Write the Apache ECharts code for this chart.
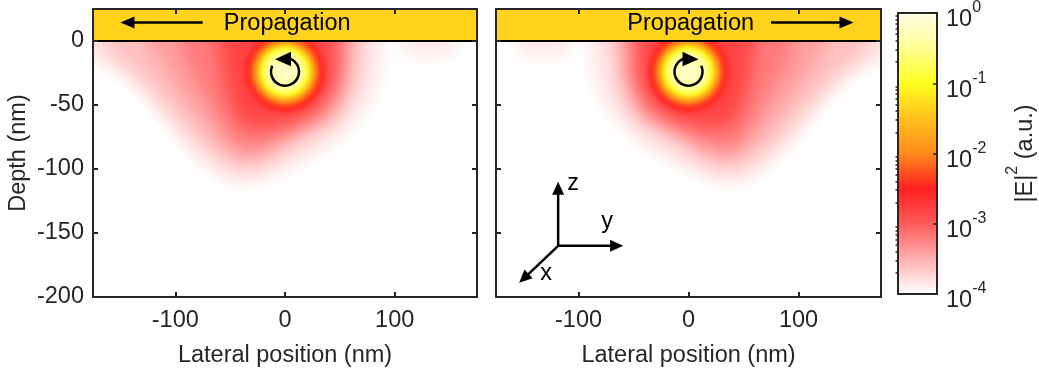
<!DOCTYPE html>
<html>
<head>
<meta charset="utf-8">
<script src="https://cdn.jsdelivr.net/npm/echarts@6/dist/echarts.min.js"></script>
<style>
  html, body { margin: 0; padding: 0; background: #ffffff; }
  #chart { width: 1039px; height: 374px; }
</style>
</head>
<body>
<div id="chart"></div>
<script>
const FONT = '"Liberation Sans", Arial, Helvetica, sans-serif';
const INK = '#262626';
const BANNER = '#ffd21c';
const FS = 23.5;

// ---- axes -------------------------------------------------------------
const lateralTicks = [-100, 0, 100];
const depthTicks = [-200, -150, -100, -50, 0];
const intensityDecades = [-4, -3, -2, -1, 0];

// ---- colour map for log10 |E|^2 ----------------------------------------
const cmapLevels = [-4, -3.5, -3, -2.5, -2, -1.5, -1, -0.5, 0];
const cmapColors = ['#ffffff', '#ffb0b0', '#ff5a5a', '#ff2020', '#ff8a1c',
                    '#ffc01c', '#ffff1e', '#ffff94', '#fffde6'];

// ---- hot spot under the circularly polarised source --------------------
// ring radius (nm, lateral) for each log10 level, around spotCenter
const spotCenter = [0, -24];
const spotLevels = [-2.6, -2.4, -2.2, -2.0, -1.8, -1.6, -1.4, -1.2, -1.0, -0.8, -0.6, -0.4, -0.2];
const spotRadii  = [37.0, 33.6, 30.8, 28.4, 26.6, 25.2, 23.8, 22.5, 21.2, 19.7, 18.4, 16.6, 9.0];

// ---- halo iso-lines, [lateral nm, depth nm], backward-propagating map ----
// (closing points sit above the surface / beyond the edge, under the banner)
const haloLevels = [-3.9, -3.8, -3.6, -3.4, -3.2, -3.0, -2.8];
const haloOutlines = [
  [[-200,20],[-200,-15],[-180,-17],[-160,-22],[-144,-31],[-123,-48],[-108,-65],[-90,-85],[-70,-101],
   [-47,-113],[-20,-109],[0,-102],[15,-97],[44,-82],[65,-66],[80,-48],[88,-30],[91,-12],[91,20]],
  [[-200,20],[-200,-4],[-178,-8],[-160,-16],[-140,-29],[-120,-47],[-100,-67],[-80,-85],[-60,-99],
   [-40,-107],[-15,-103],[0,-96],[20,-86],[40,-73],[60,-55],[72,-40],[78,-22],[79,-8],[79,20]],
  [[-166,20],[-160,-4],[-140,-21],[-120,-38],[-100,-57],[-80,-76],[-60,-90],[-40,-98],
   [-20,-95],[0,-85],[22,-75],[45,-63],[58,-46],[66,-24],[68,-8],[68,20]],
  [[-130,20],[-122,-6],[-112,-20],[-100,-36],[-80,-58],[-60,-77],[-40,-90],[-20,-88],
   [0,-78],[20,-68],[40,-58],[52,-42],[57,-24],[58,-8],[58,20]],
  [[-98,20],[-92,-10],[-88,-20],[-80,-32],[-68,-50],[-55,-68],[-40,-82],[-20,-80],
   [0,-72],[18,-64],[35,-55],[46,-40],[51,-24],[52,-8],[52,20]],
  [[-66,20],[-62,-8],[-60,-20],[-55,-38],[-48,-55],[-40,-68],[-22,-70],[0,-65],
   [18,-58],[31,-51],[41,-38],[45,-24],[46,-8],[46,20]],
  [[-53,20],[-51,-10],[-50,-20],[-48,-35],[-44,-48],[-36,-58],[-20,-62],[0,-60],
   [16,-55],[28,-48],[36,-38],[40,-24],[39,-10],[35,20]]
];
// weak lobe ahead of the source at the surface
const sideLevels = [-3.92, -3.85];
const sideOutlines = [
  [[98,20],[104,-6],[115,-13],[132,-16],[149,-13],[159,-6],[164,20]],
  [[112,20],[118,-4],[132,-8],[146,-4],[152,20]]
];

const bannerText = 'Propagation';

// the forward-propagating map is the mirror image of the backward one
const mirror = pts => pts.map(([x, y]) => [-x, y]);

function fieldItems(flip) {
  const items = [];
  haloLevels.forEach((lv, i) => items.push({ level: lv, pts: flip ? mirror(haloOutlines[i]) : haloOutlines[i] }));
  sideLevels.forEach((lv, i) => items.push({ level: lv, pts: flip ? mirror(sideOutlines[i]) : sideOutlines[i] }));
  spotLevels.forEach((lv, i) => items.push({ level: lv, center: flip ? [-spotCenter[0], spotCenter[1]] : spotCenter, r: spotRadii[i] }));
  return items;
}

// Each iso-band is painted only through its blurred shadow: the shape itself
// is shifted off the canvas and the shadow is offset back into place, which
// gives soft, continuous transitions between neighbouring levels.
const SHIFT = 4000;

function fieldSeries(gridIdx, flip) {
  const items = fieldItems(flip);
  return {
    type: 'custom',
    coordinateSystem: 'cartesian2d',
    xAxisIndex: gridIdx * 2,
    yAxisIndex: gridIdx * 2,
    clip: true,
    z: 2,
    silent: true,
    data: items.map((it, i) => [it.level, i]),
    renderItem(params, api) {
      const it = items[params.dataIndex];
      const color = api.visual('color');
      if (it.pts) {
        return {
          type: 'polygon',
          x: -SHIFT,
          shape: { points: it.pts.map(p => api.coord(p)), smooth: 0.35 },
          style: { fill: color, shadowBlur: 16, shadowColor: color, shadowOffsetX: SHIFT }
        };
      }
      const c = api.coord(it.center);
      const r = api.size([it.r, 0])[0];
      return {
        type: 'circle',
        x: -SHIFT,
        shape: { cx: c[0], cy: c[1], r: r },
        style: { fill: color, shadowBlur: 4, shadowColor: color, shadowOffsetX: SHIFT }
      };
    }
  };
}

function arrow(p0, p1, lw, headLen, headHalf) {
  const dx = p1[0] - p0[0], dy = p1[1] - p0[1];
  const L = Math.hypot(dx, dy), ux = dx / L, uy = dy / L;
  const bx = p1[0] - ux * headLen, by = p1[1] - uy * headLen;
  return [
    { type: 'line', shape: { x1: p0[0], y1: p0[1], x2: bx + ux, y2: by + uy },
      style: { stroke: '#000', lineWidth: lw } },
    { type: 'polygon', shape: { points: [[p1[0], p1[1]],
        [bx - uy * headHalf, by + ux * headHalf], [bx + uy * headHalf, by - ux * headHalf]] },
      style: { fill: '#000' } }
  ];
}

// banner, propagation arrow, spin symbol (and axis triad on the second map)
function annotationSeries(gridIdx, flip, withTriad) {
  const s = flip ? -1 : 1;
  return {
    type: 'custom',
    coordinateSystem: 'cartesian2d',
    xAxisIndex: gridIdx * 2,
    yAxisIndex: gridIdx * 2,
    z: 5,
    silent: true,
    data: [[0, 0]],
    renderItem(params, api) {
      const tl = api.coord([-175, 25]), br = api.coord([175, 0]);
      const kids = [];
      kids.push({ type: 'rect', shape: { x: tl[0], y: tl[1], width: br[0] - tl[0], height: br[1] - tl[1] },
                  style: { fill: BANNER } });
      kids.push({ type: 'line', shape: { x1: tl[0], y1: br[1], x2: br[0], y2: br[1] },
                  style: { stroke: '#000', lineWidth: 2 } });
      const tp = api.coord([2, 13.5]);
      kids.push({ type: 'text', x: tp[0], y: tp[1],
                  style: { text: bannerText, fontSize: FS, fontFamily: FONT, fill: '#000',
                           align: 'center', verticalAlign: 'middle' } });
      const a0 = api.coord([s * -75, 14.5]), a1 = api.coord([s * -150, 14.5]);
      kids.push(...arrow(a0, a1, 2.5, 14, 6));

      // spin direction symbol at the source
      const c = api.coord([s * spotCenter[0], spotCenter[1]]);
      const d2r = Math.PI / 180;
      kids.push({ type: 'arc',
                  shape: { cx: c[0], cy: c[1], r: 14,
                           startAngle: (flip ? -25 : -70) * d2r, endAngle: (flip ? 250 : 205) * d2r,
                           clockwise: true },
                  style: { stroke: '#000', lineWidth: 2.5, fill: null } });
      kids.push({ type: 'polygon',
                  shape: { points: [[c[0] - s * 10, c[1] - 12.5], [c[0] + s * 6, c[1] - 20], [c[0] + s * 6, c[1] - 5.5]] },
                  style: { fill: '#000' } });

      if (withTriad) {
        const o = api.coord([-118.5, -160]);
        kids.push(...arrow(o, [o[0], o[1] - 64], 2.5, 13, 6));
        kids.push(...arrow(o, [o[0] + 65, o[1]], 2.5, 13, 6));
        kids.push(...arrow(o, [o[0] - 39, o[1] + 37], 2.5, 13, 6));
        const lab = (t, dx, dy) => ({ type: 'text', x: o[0] + dx, y: o[1] + dy,
          style: { text: t, fontSize: FS, fontFamily: FONT, fill: '#000', align: 'center', verticalAlign: 'middle' } });
        kids.push(lab('z', 15, -62), lab('y', 49, -24), lab('x', -12, 28));
      }
      return { type: 'group', children: kids };
    }
  };
}

const labelText = { color: INK, fontSize: FS, fontFamily: FONT };
const lineStyle = { color: INK, width: 2 };

function lateralAxis(gridIndex, position, withLabels) {
  return {
    type: 'value', gridIndex, position, min: -175, max: 175, z: 10,
    axisLine: { show: true, onZero: false, lineStyle },
    axisTick: { show: true, inside: true, length: 5, lineStyle, customValues: lateralTicks },
    axisLabel: Object.assign({ show: withLabels, margin: 12, customValues: lateralTicks }, labelText),
    splitLine: { show: false },
    name: withLabels ? 'Lateral position (nm)' : '',
    nameLocation: 'middle', nameGap: 47,
    nameTextStyle: labelText
  };
}

function depthAxis(gridIndex, position, withLabels, withName) {
  return {
    type: 'value', gridIndex, position, min: -200, max: 25, z: 10,
    axisLine: { show: true, onZero: false, lineStyle },
    axisTick: { show: true, inside: true, length: 5, lineStyle, customValues: depthTicks },
    axisLabel: Object.assign({ show: withLabels, margin: 9, customValues: depthTicks }, labelText),
    splitLine: { show: false },
    name: withName ? 'Depth (nm)' : '',
    nameLocation: 'middle', nameGap: 62, nameRotate: 90,
    nameTextStyle: labelText
  };
}

function plainAxis(gridIndex, position, min, max) {
  return {
    type: 'value', gridIndex, position, min, max, z: 10,
    axisLine: { show: true, onZero: false, lineStyle },
    axisTick: { show: false }, axisLabel: { show: false }, splitLine: { show: false }
  };
}

// minor ticks of the logarithmic colour scale (2..9 within each decade)
const minorTickLevels = [];
for (let d = -4; d < 0; d++) {
  for (let k = 2; k <= 9; k++) minorTickLevels.push(d + Math.log10(k));
}

// base "10" with a raised exponent
const supRich = {
  b: { fontSize: FS, fontFamily: FONT, color: INK, padding: [14, 0, 0, 0], verticalAlign: 'bottom' },
  s: { fontSize: 16, fontFamily: FONT, color: INK, padding: [6, 0, 0, 0], verticalAlign: 'top' }
};

const option = {
  animation: false,
  backgroundColor: '#ffffff',
  grid: [
    { left: 93, top: 9, width: 384, height: 288, containLabel: false },
    { left: 496, top: 9, width: 385, height: 288, containLabel: false },
    { left: 898, top: 9, width: 41, height: 285, containLabel: false }
  ],
  xAxis: [
    lateralAxis(0, 'bottom', true),
    lateralAxis(0, 'top', false),
    lateralAxis(1, 'bottom', true),
    lateralAxis(1, 'top', false),
    plainAxis(2, 'bottom', 0, 1),
    plainAxis(2, 'top', 0, 1)
  ],
  yAxis: [
    depthAxis(0, 'left', true, true),
    depthAxis(0, 'right', false, false),
    depthAxis(1, 'left', false, false),
    depthAxis(1, 'right', false, false),
    plainAxis(2, 'left', -4, 0),
    {
      type: 'value', gridIndex: 2, position: 'right', min: -4, max: 0, z: 10,
      axisLine: { show: true, onZero: false, lineStyle },
      axisTick: { show: true, inside: true, length: 4, lineStyle: { color: INK, width: 1.5 }, customValues: intensityDecades },
      axisLabel: {
        show: true, margin: 9, customValues: intensityDecades,
        formatter: v => '{b|10}{s|' + v + '}', rich: supRich
      },
      splitLine: { show: false },
      name: '{b||E|}{s|2}{b| (a.u.)}', nameLocation: 'middle', nameRotate: 90, nameGap: 68,
      nameTextStyle: {
        fontSize: FS, fontFamily: FONT, color: INK,
        rich: {
          b: { fontSize: FS, fontFamily: FONT, color: INK, padding: [9, 0, 0, 0], verticalAlign: 'bottom' },
          s: { fontSize: 16, fontFamily: FONT, color: INK, padding: [0, 0, 0, 0], verticalAlign: 'top' }
        }
      }
    },
    {
      type: 'value', gridIndex: 2, position: 'right', min: -4, max: 0, z: 11,
      axisLine: { show: false },
      axisTick: { show: true, inside: true, length: 2.5, lineStyle: { color: INK, width: 1.5 }, customValues: minorTickLevels },
      axisLabel: { show: false }, splitLine: { show: false }
    }
  ],
  visualMap: {
    type: 'continuous', show: false, min: -4, max: 0, dimension: 0,
    seriesIndex: [0, 1],
    inRange: { color: cmapColors }
  },
  series: [
    fieldSeries(0, false),
    fieldSeries(1, true),
    annotationSeries(0, false, false),
    annotationSeries(1, true, true),
    {
      type: 'custom',
      coordinateSystem: 'cartesian2d',
      xAxisIndex: 4, yAxisIndex: 4,
      z: 2, silent: true,
      data: [[0, 0]],
      renderItem(params, api) {
        const p0 = api.coord([0, 0]), p1 = api.coord([1, -4]);
        const stops = cmapLevels
          .map((lv, i) => ({ offset: (0 - lv) / 4, color: cmapColors[i] }))
          .sort((a, b) => a.offset - b.offset);
        return {
          type: 'rect',
          shape: { x: p0[0], y: p0[1], width: p1[0] - p0[0], height: p1[1] - p0[1] },
          style: { fill: new echarts.graphic.LinearGradient(0, 0, 0, 1, stops) }
        };
      }
    }
  ]
};

const chart = echarts.init(document.getElementById('chart'), null, { renderer: 'canvas' });
chart.setOption(option);
</script>
</body>
</html>
